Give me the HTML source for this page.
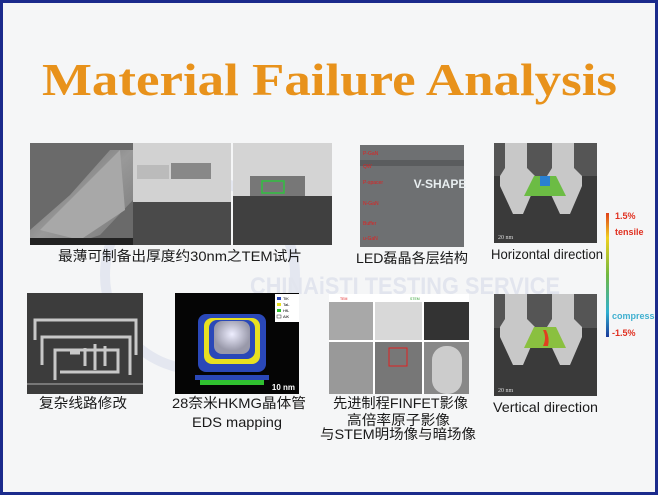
<!DOCTYPE html>
<html><head><meta charset="utf-8"><style>
html,body{margin:0;padding:0}
body{width:658px;height:495px;overflow:hidden;background:#f5f6f7}
</style></head><body>
<svg width="658" height="495" viewBox="0 0 658 495" xmlns="http://www.w3.org/2000/svg" style="display:block">
<defs>
<linearGradient id="cb" x1="0" y1="0" x2="0" y2="1">
<stop offset="0" stop-color="#e0401a"/><stop offset="0.2" stop-color="#f0d020"/><stop offset="0.5" stop-color="#70b840"/><stop offset="0.8" stop-color="#30b0d0"/><stop offset="1" stop-color="#1a3a9a"/>
</linearGradient>
<linearGradient id="sem" x1="0" y1="0" x2="1" y2="1">
<stop offset="0" stop-color="#555"/><stop offset="0.5" stop-color="#999"/><stop offset="1" stop-color="#777"/>
</linearGradient>
<radialGradient id="eds" cx="0.5" cy="0.4" r="0.5"><stop offset="0" stop-color="#eef"/><stop offset="1" stop-color="#99a"/></radialGradient>
</defs>
<rect x="0" y="0" width="658" height="495" fill="#1b2b8c"/>
<rect x="3" y="3" width="652" height="489" fill="#f5f6f7"/>
<!-- watermark -->
<circle cx="200" cy="275" r="95" fill="none" stroke="#e4e7f0" stroke-width="10"/>
<text x="250" y="294" font-family="Liberation Sans, sans-serif" font-weight="bold" font-size="24" fill="#e2e5ee" textLength="310" lengthAdjust="spacingAndGlyphs">CHINAiSTI TESTING SERVICE</text>
<!-- title -->
<text x="42" y="95" font-family="Liberation Serif, serif" font-weight="bold" font-size="46" fill="#e8921b" textLength="575" lengthAdjust="spacingAndGlyphs">Material Failure Analysis</text>

<!-- row1 img1 -->
<rect x="30" y="143" width="103" height="102" fill="#6a6a6a"/>
<polygon points="30,230 70,195 110,150 133,150 133,200 100,235 70,245 30,245" fill="url(#sem)"/>
<polygon points="40,230 105,165 120,150 125,210 80,240" fill="#a8a8a8"/>
<rect x="30" y="238" width="103" height="7" fill="#222"/>
<rect x="133" y="143" width="98" height="59" fill="#d2d2d2"/>
<rect x="133" y="202" width="98" height="43" fill="#4a4a4a"/>
<rect x="137" y="165" width="32" height="14" fill="#bbb"/>
<rect x="171" y="163" width="40" height="16" fill="#888"/>
<rect x="233" y="143" width="99" height="53" fill="#d4d4d4"/>
<rect x="233" y="196" width="99" height="49" fill="#404040"/>
<rect x="250" y="176" width="55" height="20" fill="#777"/>
<rect x="262" y="181" width="22" height="12" fill="none" stroke="#30c040" stroke-width="1.5"/>
<!-- LED -->
<rect x="360" y="145" width="104" height="102" fill="#6e7072"/>
<rect x="360" y="160" width="104" height="6" fill="#5a5c5e"/>
<text x="440" y="188" font-family="Liberation Sans, sans-serif" font-weight="bold" font-size="12" fill="#e8eef0" text-anchor="middle">V-SHAPE</text>
<g fill="#e02020" font-family="Liberation Sans, sans-serif" font-size="5"><text x="363" y="155">P-GaN</text><text x="363" y="168">QW</text><text x="363" y="184">P-spacer</text><text x="363" y="205">N-GaN</text><text x="363" y="225">Buffer</text><text x="363" y="240">u-GaN</text></g>
<!-- horizontal -->
<rect x="494" y="143" width="103" height="100" fill="#3a3a3a"/>
<rect x="494" y="143" width="103" height="33" fill="#555"/>
<path d="M505 143 h22 v25 l8 8 v10 l-12 28 h-10 l-13 -28 v-10 l5 -8z" fill="#c8c8c8"/>
<path d="M552 143 h22 v25 l8 8 v10 l-12 28 h-10 l-13 -28 v-10 l5 -8z" fill="#c8c8c8"/>
<polygon points="534,176 556,176 566,196 524,196" fill="#6cbc44"/>
<rect x="540" y="176" width="10" height="10" fill="#2a80d0"/>
<text x="498" y="239" font-family="Liberation Serif, serif" font-size="6" fill="#ddd">20 nm</text>
<!-- colorbar -->
<rect x="606" y="213" width="3" height="124" fill="url(#cb)"/>
<g font-family="Liberation Sans, sans-serif" font-weight="bold" font-size="9"><text x="615" y="219" fill="#e03020">1.5%</text><text x="615" y="235" fill="#e03020">tensile</text><text x="612" y="319" fill="#40b0d0">compress</text><text x="612" y="336" fill="#e03020">-1.5%</text></g>

<!-- row2 img1 -->
<rect x="27" y="293" width="116" height="101" fill="#3c3c3c"/>
<g fill="none" stroke="#c8c8c8" stroke-width="3"><path d="M35 340 V320 H136 V355"/><path d="M42 365 V337 H130 V375"/><path d="M55 380 V350 H118 V372 H60"/><path d="M70 353 h10 M85 348 v18 M95 344 v26 M105 346 v20"/></g>
<rect x="27" y="383" width="116" height="2" fill="#777"/>
<!-- EDS -->
<rect x="175" y="293" width="124" height="101" fill="#050505"/>
<rect x="198" y="314" width="68" height="58" rx="8" fill="#2a48b8"/>
<rect x="204" y="318" width="56" height="46" rx="8" fill="#e8e020"/>
<rect x="209" y="320" width="46" height="39" rx="8" fill="#2a48b8"/>
<rect x="214" y="321" width="36" height="33" rx="8" fill="url(#eds)"/>
<rect x="200" y="380" width="64" height="5" fill="#30c030"/>
<rect x="195" y="375" width="74" height="5" fill="#2a48b8"/>
<rect x="275" y="294" width="24" height="28" fill="#fff"/>
<g font-family="Liberation Sans, sans-serif" font-size="4" fill="#000"><rect x="277" y="297" width="4" height="3" fill="#2a48b8"/><text x="283" y="300">TiK</text><rect x="277" y="303" width="4" height="3" fill="#e8e020"/><text x="283" y="306">TaL</text><rect x="277" y="309" width="4" height="3" fill="#30c030"/><text x="283" y="312">HfL</text><rect x="277" y="315" width="4" height="3" fill="#fff" stroke="#000" stroke-width=".4"/><text x="283" y="318">AlK</text></g>
<text x="295" y="390" font-family="Liberation Sans, sans-serif" font-weight="bold" font-size="8" fill="#fff" text-anchor="end">10 nm</text>
<!-- FINFET -->
<rect x="329" y="294" width="140" height="100" fill="#fff"/>
<rect x="329" y="302" width="44" height="38" fill="#a8a8a8"/>
<rect x="375" y="302" width="47" height="38" fill="#d8d8d8"/>
<rect x="424" y="302" width="45" height="38" fill="#333"/>
<rect x="329" y="342" width="44" height="52" fill="#999"/>
<rect x="375" y="342" width="47" height="52" fill="#777"/>
<rect x="424" y="342" width="45" height="52" fill="#888"/>
<rect x="432" y="346" width="30" height="48" rx="14" fill="#ccc"/>
<rect x="389" y="348" width="18" height="18" fill="none" stroke="#e02020"/>
<text x="340" y="300" font-family="Liberation Sans, sans-serif" font-size="3.5" fill="#e02020">TEM</text>
<text x="410" y="300" font-family="Liberation Sans, sans-serif" font-size="3.5" fill="#30a030">STEM</text>
<!-- vertical -->
<rect x="494" y="294" width="103" height="102" fill="#3a3a3a"/>
<rect x="494" y="294" width="103" height="34" fill="#555"/>
<path d="M505 294 h22 v25 l8 8 v10 l-12 28 h-10 l-13 -28 v-10 l5 -8z" fill="#c8c8c8"/>
<path d="M552 294 h22 v25 l8 8 v10 l-12 28 h-10 l-13 -28 v-10 l5 -8z" fill="#c8c8c8"/>
<polygon points="534,327 556,327 566,348 524,348" fill="#8ac040"/>
<path d="M543 330 q4 8 0 16 l5 0 q2-8 -2-16z" fill="#e04020"/>
<text x="498" y="392" font-family="Liberation Serif, serif" font-size="6" fill="#ddd">20 nm</text>

<!-- captions -->
<g font-family="Liberation Sans, 'Noto Sans CJK SC', sans-serif" font-size="14" fill="#1a1a1a">
<text x="58" y="261" textLength="244" lengthAdjust="spacingAndGlyphs">最薄可制备出厚度约30nm之TEM试片</text>
<text x="356" y="263" textLength="112" lengthAdjust="spacingAndGlyphs">LED磊晶各层结构</text>
<text x="491" y="259" textLength="112" lengthAdjust="spacingAndGlyphs">Horizontal direction</text>
<text x="39" y="408" textLength="88" lengthAdjust="spacingAndGlyphs">复杂线路修改</text>
<text x="172" y="408" textLength="134" lengthAdjust="spacingAndGlyphs">28奈米HKMG晶体管</text>
<text x="192" y="427" textLength="90" lengthAdjust="spacingAndGlyphs">EDS mapping</text>
<text x="333" y="408" textLength="135" lengthAdjust="spacingAndGlyphs">先进制程FINFET影像</text>
<text x="347" y="425" textLength="103" lengthAdjust="spacingAndGlyphs">高倍率原子影像</text>
<text x="320" y="439" textLength="156" lengthAdjust="spacingAndGlyphs">与STEM明场像与暗场像</text>
<text x="493" y="412" textLength="105" lengthAdjust="spacingAndGlyphs">Vertical direction</text>
</g>
</svg>
</body></html>
